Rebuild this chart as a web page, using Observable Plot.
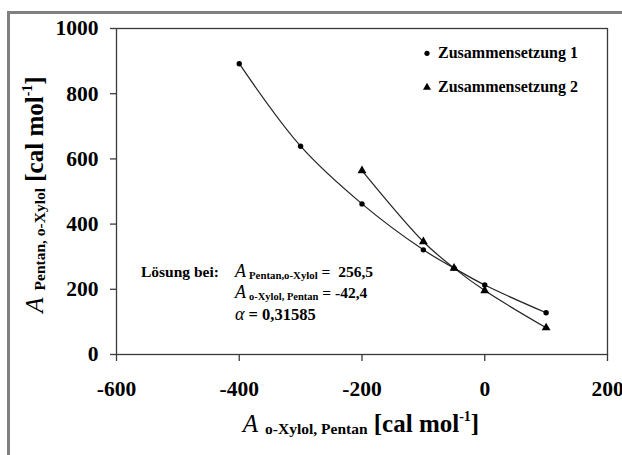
<!DOCTYPE html>
<html>
<head>
<meta charset="utf-8">
<script src="https://cdn.jsdelivr.net/npm/d3@7"></script>
<script src="https://cdn.jsdelivr.net/npm/@observablehq/plot@0.6"></script>
<style>
  html, body { margin: 0; padding: 0; background: #fff; }
  #chart svg text {
    font-family: 'Liberation Serif', 'Times New Roman', serif;
    font-weight: bold;
    fill: #000;
  }
</style>
</head>
<body>
<div id="chart"></div>
<script>
// Data
const xSeries1 = [-400, -300, -200, -100, -50, 0, 100];
const ySeries1 = [892, 639, 462, 321, 265, 213, 128];
const xSeries2 = [-200, -100, -50, 0, 100];
const ySeries2 = [564, 346, 265, 196, 82];
const seriesNames = ["Zusammensetzung 1", "Zusammensetzung 2"];
const xTicks = [-600, -400, -200, 0, 200];
const yTicks = [0, 200, 400, 600, 800, 1000];
const solution = {label: "Lösung bei:", aPX: "256,5", aXP: "-42,4", alpha: "0,31585"};

const data1 = xSeries1.map((x, i) => ({x, y: ySeries1[i]}));
const data2 = xSeries2.map((x, i) => ({x, y: ySeries2[i]}));

const font = "'Liberation Serif', 'Times New Roman', serif";

const plot = Plot.plot({
  width: 622,
  height: 455,
  marginLeft: 116,
  marginRight: 15,
  marginTop: 28,
  marginBottom: 101,
  style: {fontFamily: font, fontSize: "21.5px", color: "#000", background: "#fff", overflow: "hidden"},
  x: {domain: [-600, 200]},
  y: {domain: [0, 1000]},
  marks: [
    Plot.frame({stroke: "#3a3a3a", strokeWidth: 1.3}),
    Plot.axisX({ticks: xTicks, tickFormat: d => String(d), tickSize: 7, tickPadding: 19, label: null, stroke: "#3a3a3a", strokeWidth: 1.3}),
    Plot.axisY({ticks: yTicks, tickFormat: d => String(d), tickSize: 6, tickPadding: 12, label: null, stroke: "#3a3a3a", strokeWidth: 1.3}),
    Plot.line(data1, {x: "x", y: "y", curve: "catmull-rom", stroke: "#222", strokeWidth: 1.2}),
    Plot.line(data2, {x: "x", y: "y", curve: "catmull-rom", stroke: "#222", strokeWidth: 1.2}),
    Plot.dot(data1, {x: "x", y: "y", r: 2.7, fill: "#000", stroke: "none"}),
    Plot.dot(data2, {x: "x", y: "y", r: 3.3, symbol: "triangle", fill: "#000", stroke: "none"})
  ]
});

document.getElementById("chart").appendChild(plot);

const svg = d3.select(plot);

// outer gray border (as in the reference screenshot)
svg.insert("rect", ":first-child")
  .attr("x", 8.5).attr("y", 12.5).attr("width", 800).attr("height", 600)
  .attr("fill", "none").attr("stroke", "#808080").attr("stroke-width", 3);

function italic(sel, size, txt) {
  return sel.append("tspan").attr("font-style", "italic").attr("font-weight", "normal")
    .attr("font-size", size).text(txt);
}

// Legend
const lg = svg.append("g").attr("font-size", 16).attr("text-anchor", "start");
lg.append("circle").attr("cx", 427).attr("cy", 53.3).attr("r", 2.6).attr("fill", "#000");
lg.append("path").attr("d", d3.symbol(d3.symbolTriangle, 28)()).attr("transform", "translate(427,87.5)").attr("fill", "#000");
lg.append("text").attr("x", 438).attr("y", 58.3).text(seriesNames[0]);
lg.append("text").attr("x", 438).attr("y", 91.7).text(seriesNames[1]);

// Annotation
const an = svg.append("g").attr("font-size", 15.5).attr("text-anchor", "start");
an.append("text").attr("x", 141).attr("y", 277).text(solution.label);
const t1 = an.append("text").attr("x", 235).attr("y", 277);
italic(t1, 18, "A");
t1.append("tspan").attr("font-size", 10.8).attr("dx", 3).attr("dy", 1.5).text("Pentan,o-Xylol");
t1.append("tspan").attr("dy", -1.5).text("\u00a0=\u00a0\u00a0" + solution.aPX);
const t2 = an.append("text").attr("x", 235).attr("y", 298);
italic(t2, 18, "A");
t2.append("tspan").attr("font-size", 10.5).attr("dx", 3).attr("dy", 2).text("o-Xylol, Pentan");
t2.append("tspan").attr("dy", -2).text(" = " + solution.aXP);
const t3 = an.append("text").attr("x", 235).attr("y", 320).attr("font-size", 16.5);
italic(t3, 18, "\u03b1");
t3.append("tspan").text(" = " + solution.alpha);

// X axis title
const xt = svg.append("text").attr("font-size", 25)
  .attr("text-anchor", "middle").attr("x", 361).attr("y", 432);
italic(xt, 25, "A");
xt.append("tspan").attr("font-size", 15.5).attr("dx", 7).attr("dy", 2).text("o-Xylol, Pentan");
xt.append("tspan").attr("dy", -2).text(" [cal mol");
xt.append("tspan").attr("font-size", 14).attr("dy", -11).text("-1");
xt.append("tspan").attr("dy", 11).text("]");

// Y axis title
const yt = svg.append("text").attr("font-size", 25)
  .attr("text-anchor", "middle").attr("transform", "translate(43,194.5) rotate(-90)");
italic(yt, 25, "A");
yt.append("tspan").attr("font-size", 15.5).attr("dx", 7).attr("dy", 2).text("Pentan, o-Xylol");
yt.append("tspan").attr("dy", -2).text(" [cal mol");
yt.append("tspan").attr("font-size", 14).attr("dy", -11).text("-1");
yt.append("tspan").attr("dy", 11).text("]");
</script>
</body>
</html>
